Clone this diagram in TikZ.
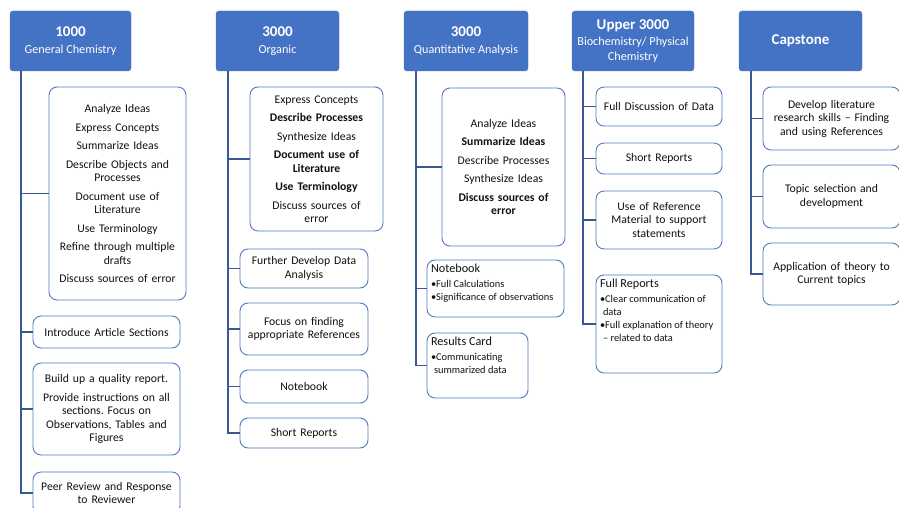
\documentclass[tikz,border=0pt]{standalone}
\usepackage{fontspec}
\setmainfont{Carlito}
\usetikzlibrary{calc}
\frenchspacing
\definecolor{hdrblue}{HTML}{4472C4}
\definecolor{boxblue}{HTML}{5279C0}
\definecolor{lineblue}{HTML}{3A5796}
\definecolor{txt}{HTML}{111111}
\newcommand\mkbox[7][]{%
  \pgfmathsetmacro\bw{#5-#3}\pgfmathsetmacro\bh{#6-#4}\pgfmathsetmacro\tw{#5-#3-6}%
  \node[box,#1,minimum width=\bw pt,minimum height=\bh pt,text width=\tw pt] (#2) at ({(#3+#5)/2},{(#4+#6)/2}) {#7};}
\newcommand\mktop[7][]{%
  \pgfmathsetmacro\bw{#5-#3}\pgfmathsetmacro\bh{#6-#4}\pgfmathsetmacro\tw{#5-#3-8}\pgfmathsetmacro\th{#6-#4-8}%
  \node[box,#1,align=left,minimum width=\bw pt,minimum height=\bh pt,inner sep=3pt] (#2) at ({(#3+#5)/2},{(#4+#6)/2}) {\parbox[c][\th pt][t]{\tw pt}{\raggedright #7}};}
\newcommand\bul{•}
\begin{document}
\begin{tikzpicture}[x=1pt,y=-1pt,
  hdr/.style={fill=hdrblue,draw=hdrblue,rounded corners=3pt,text=white,align=center,inner sep=2pt,font=\fontsize{12.2}{14.5}\selectfont},
  box/.style={draw=boxblue,line width=0.9pt,rounded corners=8pt,align=center,text=txt,inner sep=3pt,font=\fontsize{11.7}{13.5}\selectfont}, 
  conn/.style={draw=lineblue,line width=1.2pt}]
\path[fill=white,use as bounding box] (0,0) rectangle (899,508);
\newcommand\hnum[1]{{\fontsize{15}{18}\selectfont\bfseries #1}}
\newcommand\ttl[1]{{\fontsize{12.2}{14}\selectfont #1}\par\vspace{2pt}}
\newcommand\sm{\fontsize{10.4}{13}\selectfont}
% headers
\node[hdr,minimum width=121pt,minimum height=60pt] (h1) at (70.5,41) {\hnum{1000}\\[3pt]General Chemistry};
\node[hdr,minimum width=123pt,minimum height=60pt] (h2) at (277.5,41) {\hnum{3000}\\[3pt]Organic};
\node[hdr,minimum width=124pt,minimum height=60pt] (h3) at (466,41) {\hnum{3000}\\[3pt]Quantitative Analysis};
\node[hdr,minimum width=122pt,minimum height=60pt] (h4) at (633,41) {\hnum{Upper 3000}\\[2pt]Biochemistry/ Physical\\Chemistry};
\node[hdr,minimum width=123pt,minimum height=60pt] (h5) at (800.5,41) {\hnum{Capstone}};
% column 1
\mkbox{b11}{49}{87}{186}{300}{Analyze Ideas\\[5pt]Express Concepts\\[5pt]Summarize Ideas\\[5pt]Describe Objects and\\Processes\\[5pt]Document use of\\Literature\\[5pt]Use Terminology\\[5pt]Refine through multiple\\drafts\\[5pt]Discuss sources of error}
\mkbox{b12}{33}{316}{180}{348}{Introduce Article Sections}
\mkbox{b13}{33}{363}{180}{455}{Build up a quality report.\\[5pt]Provide instructions on all\\sections. Focus on\\Observations, Tables and\\Figures}
\mkbox{b14}{33}{472}{180}{514}{Peer Review and Response\\to Reviewer}
% column 2
\mkbox{b21}{250}{87}{383}{231}{Express Concepts\\[5pt]\textbf{Describe Processes}\\[5pt]Synthesize Ideas\\[5pt]\textbf{Document use of}\\\textbf{Literature}\\[5pt]\textbf{Use Terminology}\\[5pt]Discuss sources of\\error}
\mkbox{b22}{240}{249}{368}{288}{Further Develop Data\\Analysis}
\mkbox{b23}{240}{303}{368}{355}{Focus on finding\\appropriate References}
\mkbox{b24}{240}{370}{368}{403}{Notebook}
\mkbox{b25}{240}{418}{368}{448}{Short Reports}
% column 3
\mkbox{b31}{442}{88}{565}{246}{Analyze Ideas\\[5pt]\textbf{Summarize Ideas}\\[5pt]Describe Processes\\[5pt]Synthesize Ideas\\[5pt]\textbf{Discuss sources of}\\\textbf{error}}
\mktop{b32}{427}{260}{564}{317}{\ttl{Notebook}{\sm\bul Full Calculations\\\bul Significance of observations}}
\mktop{b33}{427}{333}{528}{398}{\ttl{Results Card}{\sm\bul Communicating\\\hspace*{3pt}summarized data}}
% column 4
\mkbox{b41}{596}{87}{722}{126}{Full Discussion of Data}
\mkbox{b42}{596}{143}{722}{174}{Short Reports}
\mkbox{b43}{596}{191}{722}{249}{Use of Reference\\Material to support\\statements}
\mktop{b44}{596}{275}{722}{373}{\ttl{Full Reports}{\sm\bul Clear communication of\\\hspace*{3pt}data\\\bul Full explanation of theory\\\hspace*{3pt}-- related to data}}
% column 5
\mkbox{b51}{763}{87}{900}{150}{Develop literature\\research skills -- Finding\\and using References}
\mkbox{b52}{763}{165}{900}{228}{Topic selection and\\development}
\mkbox{b53}{763}{243}{900}{305}{Application of theory to\\Current topics}
% trunks
\coordinate (t1) at (21,71);
\coordinate (t2) at (228,71);
\coordinate (t3) at (416,71);
\coordinate (t4) at (583,71);
\coordinate (t5) at (751,71);
\foreach \b in {b11,b12,b13,b14} \draw[conn] (t1) |- (\b.west);
\foreach \b in {b21,b22,b23,b24,b25} \draw[conn] (t2) |- (\b.west);
\foreach \b in {b31,b32,b33} \draw[conn] (t3) |- (\b.west);
\foreach \b in {b41,b42,b43,b44} \draw[conn] (t4) |- (\b.west);
\foreach \b in {b51,b52,b53} \draw[conn] (t5) |- (\b.west);
\end{tikzpicture}
\end{document}
